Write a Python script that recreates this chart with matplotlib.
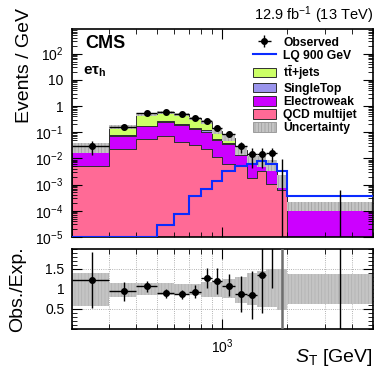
import numpy as np
import matplotlib
matplotlib.use("Agg")
import matplotlib.pyplot as plt
from matplotlib.ticker import (FixedLocator, FixedFormatter, LogLocator,
                               NullFormatter, MultipleLocator)
from matplotlib.lines import Line2D
from matplotlib.patches import Patch

plt.rcParams['font.family'] = ['Liberation Sans', 'DejaVu Sans']
plt.rcParams['mathtext.fontset'] = 'custom'
plt.rcParams['mathtext.rm'] = 'Liberation Sans'
plt.rcParams['mathtext.it'] = 'Liberation Sans:italic'
plt.rcParams['mathtext.bf'] = 'Liberation Sans:bold'
plt.rcParams['hatch.linewidth'] = 0.5

# ---------------- data ----------------
edges = np.array([200, 300, 400, 500, 600, 700, 800, 900, 1000,
                  1150, 1300, 1450, 1600, 1800, 2000, 5000])

# stacked backgrounds (events / GeV)
qcd = np.array([0.0050, 0.0236, 0.054, 0.072, 0.042, 0.0316, 0.022, 0.011,
                0.006, 0.005, 0.0018, 0.0034, 0.0011, 0.0006, 0.0])
ewk = np.array([0.014, 0.048, 0.112, 0.177, 0.144, 0.098, 0.078, 0.039,
                0.029, 0.009, 0.0045, 0.0035, 0.0025, 0.0004, 0.00015])
stop = np.array([0.0005, 0.006, 0.009, 0.011, 0.014, 0.015, 0.018, 0.006,
                 0.003, 0.001, 0.0003, 0.0003, 0.0002, 0.0001, 0.000003])
ttj = np.array([0.0085, 0.092, 0.315, 0.32, 0.29, 0.195, 0.132, 0.054,
                0.024, 0.006, 0.0024, 0.0013, 0.0021, 0.0005, 0.000005])

# LQ 900 GeV signal
lq = np.array([1e-5, 1e-5, 1e-5, 2.9e-5, 7.5e-5, 3.55e-4, 6.8e-4, 1.34e-3,
               3.2e-3, 5.0e-3, 6.3e-3, 7.9e-3, 5.9e-3, 3.2e-3, 3.55e-4])

# observed (events / GeV) with errors
obs = np.array([0.030, 0.16, 0.54, 0.59, 0.48, 0.34, 0.26, 0.145,
                0.089, 0.030, 0.0145, 0.0145, 0.0165, 0.0, 0.0])
obs_lo = np.array([0.017, 0.040, 0.073, 0.077, 0.069, 0.058, 0.051, 0.038,
                   0.024, 0.014, 0.010, 0.010, 0.009, 0.0, 0.0])
obs_hi = np.array([0.017, 0.040, 0.073, 0.077, 0.069, 0.058, 0.051, 0.038,
                   0.024, 0.014, 0.010, 0.010, 0.009, 0.0092, 0.00061])

# ratio panel
ratio = np.array([1.22, 0.94, 1.066, 0.90, 0.87, 0.93, 1.28, 1.21,
                  1.066, 0.87, 0.855, 1.36, 2.45, 0.0, 0.0])
ratio_lo = np.array([0.69, 0.24, 0.146, 0.13, 0.12, 0.16, 0.25, 0.34,
                     0.23, 0.44, 0.605, 0.97, 1.42, 0.0, 0.0])
ratio_hi = np.array([0.70, 0.23, 0.144, 0.10, 0.11, 0.18, 0.25, 0.32,
                     0.31, 0.45, 0.605, 0.97, 1.40, 3.0, 3.0])
band_hi = np.array([1.41, 1.16, 1.14, 1.14, 1.12, 1.13, 1.18, 1.19,
                    1.25, 1.30, 1.41, 1.45, 1.50, 1.51, 1.38])
band_lo = np.array([0.58, 0.81, 0.85, 0.85, 0.86, 0.86, 0.81, 0.80,
                    0.78, 0.66, 0.60, 0.56, 0.55, 0.47, 0.62])

colors = {'tt': '#ccff66', 'st': '#9a94ec', 'ew': '#cc00ff', 'qcd': '#ff6a96'}
lq_color = '#0a2bff'
zero_bar_colors = ['#6e6e6e', 'k']
zero_bar_widths = [1.8, 1.0]

lo_e = edges[:-1]
hi_e = edges[1:]
xc = 0.5 * (lo_e + hi_e)

# ---------------- figure ----------------
fig = plt.figure(figsize=(3.75, 3.68), dpi=100)
ax = fig.add_axes([0.1907, 0.356, 0.804, 0.565])
rax = fig.add_axes([0.1907, 0.106, 0.804, 0.2174], sharex=ax)

ax.set_xscale('log')
ax.set_yscale('log', nonpositive='clip')
ax.set_xlim(200, 5000)
ax.set_ylim(1e-5, 870)

cum = np.zeros_like(qcd)
for vals, key in [(qcd, 'qcd'), (ewk, 'ew'), (stop, 'st'), (ttj, 'tt')]:
    top = cum + vals
    ax.stairs(top, edges, baseline=cum, fill=True, facecolor=colors[key],
              edgecolor='#303030', lw=0.7, zorder=1)
    cum = top
total = cum

ax.stairs(total * band_hi, edges, baseline=total * band_lo, fill=True,
          facecolor='#c4c4c4', edgecolor='#9c9c9c', hatch='|||||', lw=0,
          zorder=2)
ax.stairs(lq, edges, baseline=None, color=lq_color, lw=1.5, zorder=3)

eb = ax.errorbar(xc, obs, yerr=[obs_lo, obs_hi], xerr=[xc - lo_e, hi_e - xc],
                 fmt='o', color='k', ms=4, lw=1.0, capsize=0, zorder=4)

# y axis
ymaj = [1e-5, 1e-4, 1e-3, 1e-2, 1e-1, 1, 10, 100]
ylab = [r'$10^{-5}$', r'$10^{-4}$', r'$10^{-3}$', r'$10^{-2}$',
        r'$10^{-1}$', '1', '10', r'$10^{2}$']
ax.yaxis.set_major_locator(FixedLocator(ymaj))
ax.yaxis.set_major_formatter(FixedFormatter(ylab))
ax.yaxis.set_minor_locator(LogLocator(base=10, subs=np.arange(2, 10), numticks=30))
ax.yaxis.set_minor_formatter(NullFormatter())
ax.xaxis.set_major_locator(LogLocator(base=10, numticks=10))
ax.xaxis.set_minor_locator(LogLocator(base=10, subs=np.arange(2, 10), numticks=30))
ax.xaxis.set_minor_formatter(NullFormatter())

for a in (ax, rax):
    a.tick_params(which='both', direction='in', top=True, right=True,
                  labelsize=10)
    a.tick_params(which='major', length=7, width=0.8)
    a.tick_params(which='minor', length=3.5, width=0.6)
    for s in a.spines.values():
        s.set_linewidth(1.2)
ax.tick_params(which='both', labelbottom=False, pad=6)

ax.set_ylabel('Events / GeV', fontsize=14, loc='top')
ax.yaxis.set_label_coords(-0.128, 1.10)

# legend
handles = [eb,
           Line2D([], [], color=lq_color, lw=1.5),
           Patch(facecolor=colors['tt'], edgecolor='#303030', lw=0.7),
           Patch(facecolor=colors['st'], edgecolor='#303030', lw=0.7),
           Patch(facecolor=colors['ew'], edgecolor='#303030', lw=0.7),
           Patch(facecolor=colors['qcd'], edgecolor='#303030', lw=0.7),
           Patch(facecolor='#c4c4c4', edgecolor='#9c9c9c', hatch='|||||', lw=0.7)]
labels = ['Observed', 'LQ 900 GeV', r'$\mathbf{t\bar{t}}$+jets', 'SingleTop',
          'Electroweak', 'QCD multijet', 'Uncertainty']
ax.legend(handles, labels, loc='upper left', bbox_to_anchor=(253 / 375, 1 - 36.5 / 368),
          bbox_transform=fig.transFigure, frameon=False,
          prop={'weight': 'bold', 'size': 8.7}, handlelength=1.9,
          handleheight=0.85, handletextpad=0.6, labelspacing=0.1,
          borderaxespad=0, borderpad=0)

fig.text(373 / 375, 1 - 15 / 368, r'12.9 fb$^{-1}$ (13 TeV)', ha='right',
         va='center', fontsize=10.5)
fig.text(85 / 375, 1 - 43.5 / 368, 'CMS', weight='bold', fontsize=13,
         ha='left', va='center')
fig.text(83 / 375, 1 - 72 / 368, r'$\mathbf{e\tau_{h}}$', fontsize=11,
         ha='left', va='center')

# ---------------- ratio panel ----------------
rax.set_ylim(0, 2)
rax.set_axisbelow(True)
rax.grid(True, which='both', axis='x', ls=':', color='#9a9a9a', lw=0.6)
rax.grid(True, which='major', axis='y', ls=':', color='#9a9a9a', lw=0.6)
rax.stairs(band_hi, edges, baseline=band_lo, fill=True, facecolor='#c4c4c4',
           edgecolor='#b0b0b0', hatch='|||||', lw=0, zorder=1)
nz = ratio > 0
rax.errorbar(xc[nz], ratio[nz], yerr=[ratio_lo[nz], ratio_hi[nz]],
             xerr=[(xc - lo_e)[nz], (hi_e - xc)[nz]], fmt='o', color='k',
             ms=4, lw=1.0, capsize=0, zorder=4)
zidx = np.where(~nz)[0]
for i, c, w in zip(zidx, zero_bar_colors, zero_bar_widths):
    rax.errorbar([xc[i]], [ratio[i]], yerr=[[ratio_lo[i]], [ratio_hi[i]]],
                 fmt='none', ecolor=c, lw=w, capsize=0, zorder=4)
rax.yaxis.set_major_locator(FixedLocator([0.5, 1.0, 1.5]))
rax.yaxis.set_major_formatter(FixedFormatter(['0.5', '1', '1.5']))
rax.yaxis.set_minor_locator(MultipleLocator(0.1))
rax.xaxis.set_minor_formatter(NullFormatter())
rax.tick_params(axis='y', which='both', pad=5)
rax.tick_params(axis='x', which='both', pad=6)
rax.set_ylabel('Obs./Exp.', fontsize=14)
rax.yaxis.set_label_coords(-0.151, 0.5)
rax.set_xlabel(r'$S_{\mathrm{T}}$ [GeV]', fontsize=14, loc='right')
rax.xaxis.set_label_coords(1.0, -0.22)

fig.savefig('out.png', dpi=100)
